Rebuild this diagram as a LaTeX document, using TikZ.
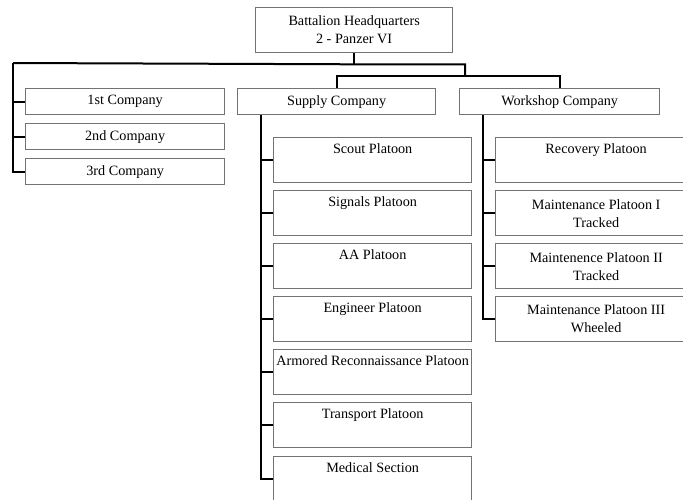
\documentclass[tikz,border=0pt]{standalone}
\usepackage{fontspec}
\setmainfont{Liberation Serif}
\usetikzlibrary{positioning,calc}

\tikzset{
  box/.style={draw=black!55, line width=1.3pt, inner sep=0pt, align=center,
    font=\fontsize{14.2}{18}\selectfont},
  company/.style={box, anchor=north west, minimum width=199pt, minimum height=26pt},
  platoon/.style={box, anchor=north west, minimum width=198pt, minimum height=45pt},
  link/.style={line width=2pt, black},
}

\begin{document}
\begin{tikzpicture}[x=1pt, y=-1pt]
  \useasboundingbox (0,0) rectangle (683,499);
  \clip (0,0) rectangle (683,499);
  % headquarters
  \node[box, anchor=north west, minimum width=197pt, minimum height=45pt] (hq) at (255,7)
    {Battalion Headquarters\\2 - Panzer VI};
  % companies
  \foreach \n/\y/\lab in {c1/88/1st Company, c2/123/2nd Company, c3/158/3rd Company} {
    \node[company] (\n) at (25,\y) {\lab};
  }
  \node[company, minimum width=198pt] (supply) at (237,88) {Supply Company};
  \node[company, minimum width=200pt] (workshop) at (459,88) {Workshop Company};
  % supply platoons
  \foreach \n/\y/\lab in {scout/137/Scout Platoon, signals/190/Signals Platoon,
      aa/243/AA Platoon, engineer/296/Engineer Platoon,
      armored/349/Armored Reconnaissance Platoon, transport/402/Transport Platoon,
      medical/456/Medical Section} {
    \node[platoon] (\n) at (273,\y) {\lab\\\strut};
  }
  % workshop platoons
  \foreach \n/\y/\lab in {recovery/137/Recovery Platoon\\\strut,
      mainta/190/Maintenance Platoon I\\Tracked,
      maintb/243/Maintenence Platoon II\\Tracked,
      maintc/296/Maintenance Platoon III\\Wheeled} {
    \node[platoon, minimum width=201pt] (\n) at (495,\y) {\lab};
  }
  % top links
  \coordinate (bus) at ($(hq.south)+(0,11)$);
  \coordinate (lspine) at (13,63);
  \coordinate (sbus) at (465,76);
  \draw[link] (hq.south) -- (bus);
  \draw[link] (lspine) -- (bus) -| (sbus);
  \draw[link] (supply.north) |- (sbus) -| (workshop.north);
  \draw[link] (lspine) |- (c3.west);
  \foreach \n in {c1,c2} {
    \draw[link] (lspine |- \n.west) -- (\n.west);
  }
  % supply links
  \coordinate (sspine) at ($(supply.south west)+(24,0)$);
  \draw[link] (sspine) |- (medical.west);
  \foreach \n in {scout,signals,aa,engineer,armored,transport} {
    \draw[link] (sspine |- \n.west) -- (\n.west);
  }
  % workshop links
  \coordinate (wspine) at ($(workshop.south west)+(24,0)$);
  \draw[link] (wspine) |- (maintc.west);
  \foreach \n in {recovery,mainta,maintb} {
    \draw[link] (wspine |- \n.west) -- (\n.west);
  }
\end{tikzpicture}
\end{document}
